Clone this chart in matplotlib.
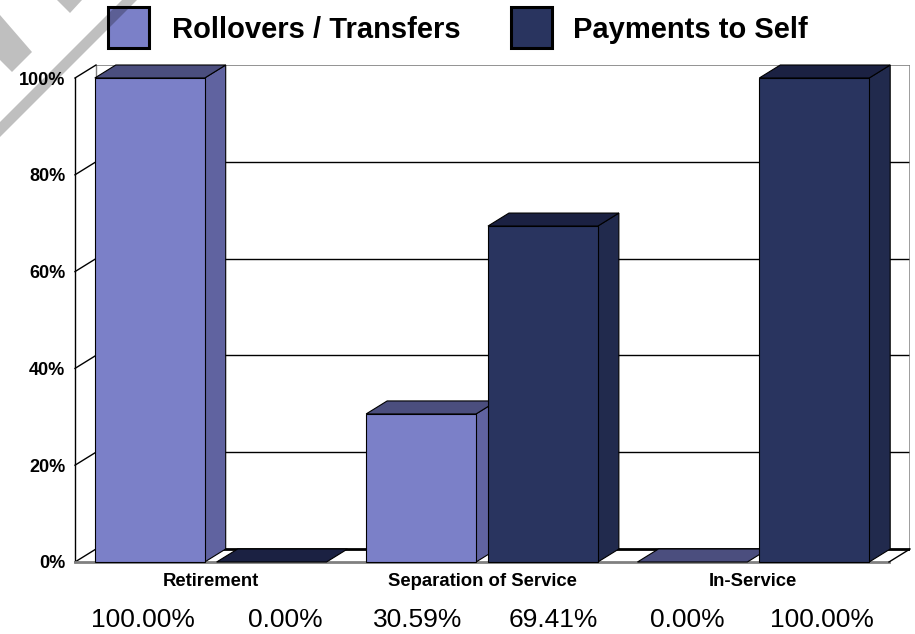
import matplotlib
matplotlib.use("Agg")
import matplotlib.pyplot as plt
from matplotlib.patches import Polygon, Rectangle

plt.rcParams["font.family"] = ["Liberation Sans", "DejaVu Sans"]

# distribution type share by category (percent)
categories = ["Retirement", "Separation of Service", "In-Service"]
series_names = ["Rollovers / Transfers", "Payments to Self"]
rollovers = [100.00, 30.59, 0.00]
payments = [0.00, 69.41, 100.00]
yticks = [0, 20, 40, 60, 80, 100]

# face colours per series: front, side, top
FACES = [
    ("#7b80c8", "#6063a0", "#4b4e7e"),
    ("#29345f", "#212a4d", "#1b2142"),
]

W, H = 915, 634
DX, DY = 0.0774, 2.686         # depth offset (x in category units, y in percent)
BAR_W, GAP = 0.405, 0.044
VALUE_X = [143, 285, 418, 553, 687, 822]   # pixel centres of the value row


def fig_xy(px, py):
    """Pixel coordinates (origin top-left) -> figure fraction."""
    return px / W, 1 - py / H


fig = plt.figure(figsize=(W / 100, H / 100), dpi=100)
l, t = fig_xy(75, 65)
r, b = fig_xy(910, 562)
ax = fig.add_axes([l, b, r - l, t - b])
ax.set_xlim(-0.5, 2.5 + DX)
ax.set_ylim(0, 100 + DY)
for s in ax.spines.values():
    s.set_visible(False)
ax.set_yticks(yticks)
ax.set_yticklabels([f"{v}%" for v in yticks], fontsize=13, fontweight="bold")
ax.set_xticks(range(len(categories)))
ax.set_xticklabels(categories, fontsize=13.3, fontweight="bold")
ax.tick_params(axis="y", length=0, pad=7)
ax.tick_params(axis="x", length=0, pad=8)

x0, x1 = -0.5, 2.5
# back wall with gridlines
ax.add_patch(Rectangle((x0 + DX, DY), x1 - x0, 100, fc="white", ec="none", zorder=0))
for v in yticks[1:-1]:
    ax.plot([x0 + DX, x1 + DX], [v + DY, v + DY], color="black", lw=1, zorder=1)
ax.plot([x0 + DX, x1 + DX], [100 + DY, 100 + DY], color="#808080", lw=1.2, zorder=1)
ax.plot([x0 + DX, x0 + DX], [DY, 100 + DY], color="#808080", lw=1, zorder=1)
ax.plot([x1 + DX, x1 + DX], [DY, 100 + DY], color="#808080", lw=1.8, zorder=1)
# left wall
ax.plot([x0, x0], [0, 100], color="black", lw=1, zorder=1, clip_on=False)
for v in yticks:
    ax.plot([x0, x0 + DX], [v, v + DY], color="black", lw=1, zorder=1, clip_on=False)
# floor
ax.plot([x0 + DX, x1 + DX], [DY, DY], color="black", lw=2, zorder=1)
ax.plot([x0, x1], [0, 0], color="#808080", lw=2, zorder=1, clip_on=False)
ax.plot([x1, x1 + DX], [0, DY], color="black", lw=1, zorder=1, clip_on=False)


def bar3d(left, h, faces, z):
    front, side, top = faces
    right = left + BAR_W
    kw = dict(ec="black", lw=0.8, joinstyle="miter", clip_on=False, zorder=z)
    if h > 0:
        ax.add_patch(Polygon([(right, 0), (right + DX, DY), (right + DX, h + DY), (right, h)],
                             fc=side, **kw))
    ax.add_patch(Polygon([(left, h), (left + DX, h + DY), (right + DX, h + DY), (right, h)],
                         fc=top, **kw))
    if h > 0:
        ax.add_patch(Rectangle((left, 0), BAR_W, h, fc=front, **kw))


z = 2
for i in range(len(categories)):
    lefts = [i - GAP / 2 - BAR_W, i + GAP / 2]
    for k, vals in enumerate([rollovers, payments]):
        bar3d(lefts[k], vals[i], FACES[k], z)
        z += 1

# legend
for (bx, tx), name, faces in zip([(108, 172), (511, 573)], series_names, FACES):
    fx, fy = fig_xy(bx, 48)
    fig.patches.append(Rectangle((fx, fy), 41 / W, 41 / H, transform=fig.transFigure,
                                 fc=faces[0], ec="black", lw=2.2))
    fig.text(*fig_xy(tx, 30), name, fontsize=21, fontweight="bold", va="center", ha="left")

# value row under the chart
values = [v for pair in zip(rollovers, payments) for v in pair]
for px, v in zip(VALUE_X, values):
    fig.text(*fig_xy(px, 620), f"{v:.2f}%", fontsize=19,
             ha="center", va="center")

# grey diagonal marks in the top-left corner
marks = [
    [(0, 122), (122, 0), (137, 0), (0, 137)],
    [(0, 15), (32, 52), (12, 72), (0, 60)],
    [(57, 0), (82, 0), (70, 13)],
]
for pts in marks:
    fig.patches.append(Polygon([fig_xy(px, py) for px, py in pts], closed=True,
                               transform=fig.transFigure, fc="black", alpha=0.25,
                               ec="none", zorder=10))

fig.savefig("out.png", dpi=100)
